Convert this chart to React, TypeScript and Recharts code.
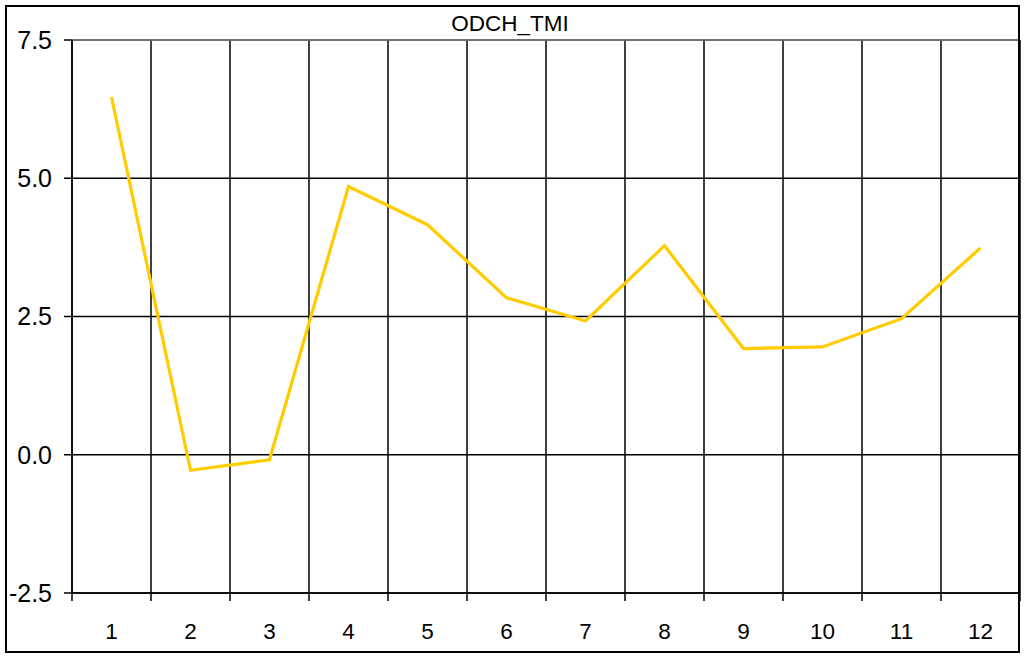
import React from 'react';
import { LineChart, Line, XAxis, YAxis, CartesianGrid, ReferenceLine } from 'recharts';

const months = [1, 2, 3, 4, 5, 6, 7, 8, 9, 10, 11, 12];
const odchTmi = [6.47, -0.28, -0.09, 4.85, 4.16, 2.84, 2.42, 3.78, 1.92, 1.95, 2.46, 3.74];
const yTicks = [-2.5, 0, 2.5, 5, 7.5];

const data = months.map((m, i) => ({ month: m, value: odchTmi[i] }));

// ticks at category edges (x.5) get a tick mark, integer ticks get a label
const xTicks: number[] = [];
months.forEach((m) => xTicks.push(m - 0.5, m));
xTicks.push(months[months.length - 1] + 0.5);

const font = 'Liberation Sans, Arial, sans-serif';

const XTick = (props: any) => {
  const { x, y, payload } = props;
  if (payload.value % 1 !== 0) {
    return <line x1={x} x2={x} y1={y} y2={y + 8} stroke="#000" strokeWidth={1.5} />;
  }
  return (
    <text x={x} y={y + 46} textAnchor="middle" fontSize={22.5} fontFamily={font} fill="#000">
      {payload.value}
    </text>
  );
};

const edges = ({ offset }: any) =>
  [...months, 0].map((_, i) => offset.left + (offset.width * i) / months.length);

export default function App() {
  return (
    <div style={{ position: 'absolute', left: 0, top: 0, width: 1025, height: 657, background: '#fff' }}>
      <LineChart width={1025} height={657} data={data} margin={{ top: 40, right: 5, bottom: 0, left: 0 }}>
        <CartesianGrid stroke="#000" strokeWidth={1.5} verticalCoordinatesGenerator={edges} />
        <XAxis
          dataKey="month"
          type="number"
          domain={[0.5, 12.5]}
          ticks={xTicks}
          interval={0}
          tick={<XTick />}
          tickLine={false}
          tickSize={0}
          tickMargin={0}
          axisLine={{ stroke: '#000', strokeWidth: 1.5 }}
          height={64}
        />
        <YAxis
          domain={[-2.5, 7.5]}
          ticks={yTicks}
          interval={0}
          tickFormatter={(v: number) => v.toFixed(1)}
          width={72}
          tickSize={8}
          tickMargin={12}
          tickLine={{ stroke: '#000', strokeWidth: 1.5 }}
          axisLine={{ stroke: '#000', strokeWidth: 1.5 }}
          tick={{ fontSize: 25, fontFamily: font, fill: '#000' }}
        />
        <ReferenceLine y={7.5} stroke="#808080" strokeWidth={1.5} />
        <Line
          type="linear"
          dataKey="value"
          stroke="#FFCC00"
          strokeWidth={3.2}
          dot={false}
          isAnimationActive={false}
        />
      </LineChart>
      <div
        style={{
          position: 'absolute',
          left: 0,
          top: 11,
          width: 1020,
          textAlign: 'center',
          fontFamily: font,
          fontSize: 22.5,
          lineHeight: '26px',
          color: '#000',
        }}
      >
        ODCH_TMI
      </div>
      <div
        style={{
          position: 'absolute',
          left: 5,
          top: 5,
          width: 1015,
          height: 648,
          boxSizing: 'border-box',
          border: '2px solid #000',
          pointerEvents: 'none',
        }}
      />
    </div>
  );
}
